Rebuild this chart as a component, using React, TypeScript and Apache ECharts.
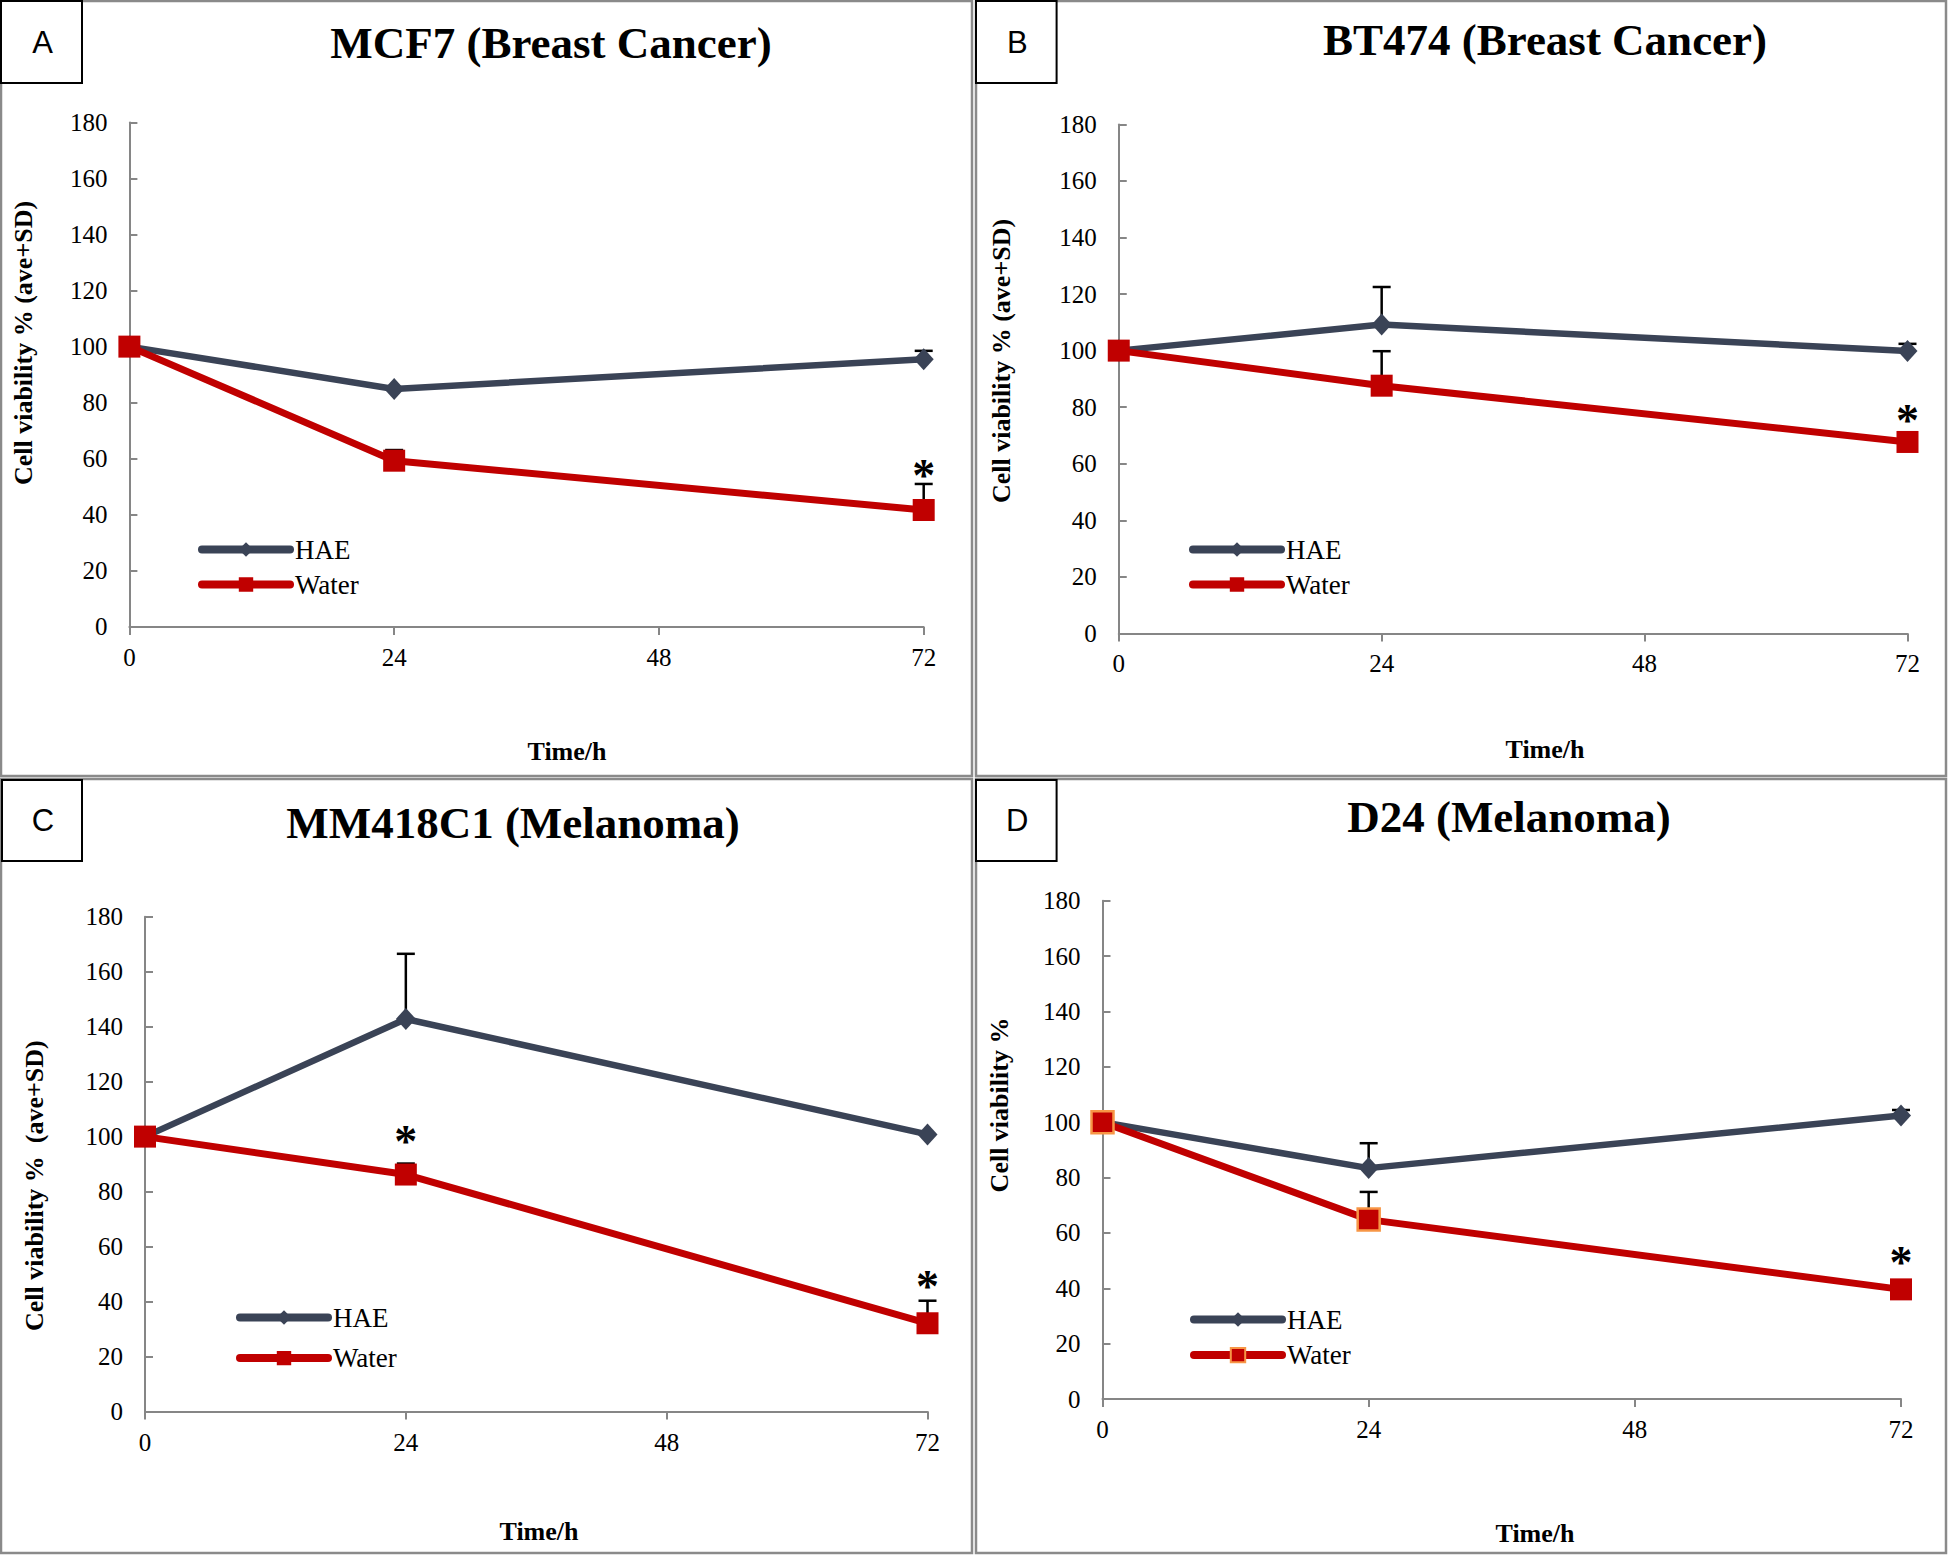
import React, { useEffect, useRef } from "react";
import * as echarts from "echarts";

// ---------- data ----------
const hours = [0, 24, 72];
const panelLetters = ["A", "B", "C", "D"];
const panelTitles = ["MCF7 (Breast Cancer)", "BT474 (Breast Cancer)", "MM418C1 (Melanoma)", "D24 (Melanoma)"];
const yAxisNames = ["Cell viability % (ave+SD)", "Cell viability % (ave+SD)", "Cell viability %  (ave+SD)", "Cell viability %"];
const xAxisName = "Time/h";
const seriesNames = ["HAE", "Water"];

const mcf7Hae = [100, 84.9, 95.5];
const mcf7HaeSd = [0, 0, 3];
const mcf7Water = [100, 59.3, 41.7];
const mcf7WaterSd = [0, 3.8, 9.3];
const mcf7Stars = [null, null, 56.4];

const bt474Hae = [100, 109.2, 99.9];
const bt474HaeSd = [0, 13.3, 2.5];
const bt474Water = [100, 87.6, 67.7];
const bt474WaterSd = [0, 12.2, 0];
const bt474Stars = [null, null, 77.9];

const mm418Hae = [100, 142.8, 100.8];
const mm418HaeSd = [0, 23.7, 0];
const mm418Water = [100, 86.2, 32.1];
const mm418WaterSd = [0, 4, 8.2];
const mm418Stars = [null, 100.9, 48];

const d24Hae = [100, 83.4, 102.4];
const d24HaeSd = [0, 9, 2];
const d24Water = [100, 64.8, 39.6];
const d24WaterSd = [0, 10, 0];
const d24Stars = [null, null, 51.8];

// ---------- styling / layout ----------
const HAE_COLOR = "#3A4356";
const WATER_COLOR = "#C00000";
const ORANGE = "#F79646";
const AXIS_COLOR = "#868686";
const SERIF = "'Liberation Serif', 'Times New Roman', serif";

const panels = [
  {
    grid: { left: 129.4, top: 122.4, width: 794.3, height: 504.5 },
    hae: mcf7Hae, haeSd: mcf7HaeSd, water: mcf7Water, waterSd: mcf7WaterSd, stars: mcf7Stars,
    title: [551, 43], yName: [23.5, 343], xName: [567, 751],
    legend: { left: 198, top: 536, gap: 8 }, box: [0, 0, 81, 82], orange: false,
  },
  {
    grid: { left: 1118.75, top: 124.4, width: 788.75, height: 509 },
    hae: bt474Hae, haeSd: bt474HaeSd, water: bt474Water, waterSd: bt474WaterSd, stars: bt474Stars,
    title: [1545, 40], yName: [1001.5, 361], xName: [1545, 749],
    legend: { left: 1189, top: 536, gap: 8 }, box: [975, 0, 80.6, 82], orange: false,
  },
  {
    grid: { left: 145, top: 916.7, width: 782.5, height: 494.8 },
    hae: mm418Hae, haeSd: mm418HaeSd, water: mm418Water, waterSd: mm418WaterSd, stars: mm418Stars,
    title: [513, 822.6], yName: [34.5, 1185.6], xName: [539, 1531],
    legend: { left: 236, top: 1304, gap: 13.6 }, box: [1, 779, 80, 81], orange: false,
  },
  {
    grid: { left: 1102.5, top: 900.7, width: 798.5, height: 498.3 },
    hae: d24Hae, haeSd: d24HaeSd, water: d24Water, waterSd: d24WaterSd, stars: d24Stars,
    title: [1509, 817], yName: [999, 1105], xName: [1535, 1533],
    legend: { left: 1190, top: 1306, gap: 8.6 }, box: [975, 779, 80.6, 81], orange: true,
  },
];

const panelFrames = [
  [1, 1, 971, 775],
  [976, 1, 970, 775],
  [1, 779, 971, 774],
  [976, 779, 970, 774],
];

function errorSeries(g: number, values: number[], sds: number[]) {
  const data = hours
    .map((h, i) => [h, values[i], sds[i]])
    .filter((d) => d[2] > 0);
  return {
    type: "custom",
    xAxisIndex: g,
    yAxisIndex: g,
    z: 1,
    silent: true,
    clip: false,
    data,
    renderItem: (params: any, api: any) => {
      const x = api.value(0);
      const y = api.value(1);
      const sd = api.value(2);
      const base = api.coord([x, y]);
      const top = api.coord([x, y + sd]);
      return {
        type: "group",
        children: [
          { type: "line", shape: { x1: base[0], y1: base[1], x2: top[0], y2: top[1] }, style: { stroke: "#000", lineWidth: 2.5 } },
          { type: "line", shape: { x1: top[0] - 9, y1: top[1], x2: top[0] + 9, y2: top[1] }, style: { stroke: "#000", lineWidth: 2.5 } },
        ],
      };
    },
  };
}

function starSeries(g: number, stars: (number | null)[]) {
  const data = hours
    .map((h, i) => [h, stars[i]])
    .filter((d) => d[1] !== null);
  return {
    type: "custom",
    xAxisIndex: g,
    yAxisIndex: g,
    z: 5,
    silent: true,
    clip: false,
    data,
    renderItem: (params: any, api: any) => {
      const p = api.coord([api.value(0), api.value(1)]);
      return {
        type: "text",
        x: p[0],
        y: p[1] + 7,
        style: {
          text: "*",
          fontFamily: SERIF,
          fontWeight: "bold",
          fontSize: 46,
          fill: "#000",
          align: "center",
          verticalAlign: "middle",
        },
      };
    },
  };
}

export default function App() {
  const ref = useRef<HTMLDivElement>(null);

  useEffect(() => {
    if (!ref.current) return;
    const chart = echarts.init(ref.current, null, { renderer: "svg" });

    const grid = panels.map((p) => ({ ...p.grid, containLabel: false }));
    const xAxis = panels.map((p, i) => ({
      type: "value",
      gridIndex: i,
      min: 0,
      max: 72,
      interval: 24,
      splitLine: { show: false },
      axisLine: { show: true, lineStyle: { color: AXIS_COLOR, width: 2 } },
      axisTick: { show: true, length: 8, lineStyle: { color: AXIS_COLOR, width: 2 } },
      axisLabel: { color: "#000", fontFamily: SERIF, fontSize: 25, margin: 18 },
    }));
    const yAxis = panels.map((p, i) => ({
      type: "value",
      gridIndex: i,
      min: 0,
      max: 180,
      interval: 20,
      splitLine: { show: false },
      axisLine: { show: true, lineStyle: { color: AXIS_COLOR, width: 2 } },
      axisTick: { show: true, inside: true, length: 8, lineStyle: { color: AXIS_COLOR, width: 2 } },
      axisLabel: { color: "#000", fontFamily: SERIF, fontSize: 25, margin: 22 },
    }));

    const series: any[] = [];
    panels.forEach((p, i) => {
      series.push(errorSeries(i, p.hae, p.haeSd));
      series.push(errorSeries(i, p.water, p.waterSd));
      series.push({
        type: "line",
        name: seriesNames[0],
        xAxisIndex: i,
        yAxisIndex: i,
        data: hours.map((h, k) => [h, p.hae[k]]),
        symbol: "diamond",
        symbolSize: [20, 22],
        showAllSymbol: true,
        lineStyle: { color: HAE_COLOR, width: 6.5 },
        itemStyle: { color: HAE_COLOR },
        z: 3,
        silent: true,
      });
      series.push({
        type: "line",
        name: seriesNames[1],
        xAxisIndex: i,
        yAxisIndex: i,
        data: hours.map((h, k) => {
          const item: any = { value: [h, p.water[k]] };
          if (p.orange && k < 2) {
            item.itemStyle = { borderColor: ORANGE, borderWidth: 2.5 };
          }
          return item;
        }),
        symbol: "rect",
        symbolSize: 22,
        lineStyle: { color: WATER_COLOR, width: 7 },
        itemStyle: { color: WATER_COLOR },
        z: 4,
        silent: true,
      });
      series.push(starSeries(i, p.stars));
    });

    const legend = panels.map((p) => ({
      orient: "vertical",
      left: p.legend.left,
      top: p.legend.top,
      padding: 0,
      itemGap: p.legend.gap,
      itemWidth: 88,
      itemHeight: 18,
      selectedMode: false,
      lineStyle: { width: 8, cap: "round" },
      textStyle: { fontFamily: SERIF, fontSize: 27, color: "#000", lineHeight: 26 },
      data: [
        { name: seriesNames[0] },
        p.orange
          ? { name: seriesNames[1], itemStyle: { borderColor: ORANGE, borderWidth: 2 } }
          : { name: seriesNames[1] },
      ],
    }));

    const graphic: any[] = [];
    panelFrames.forEach((f) => {
      graphic.push({
        type: "rect",
        shape: { x: f[0], y: f[1], width: f[2], height: f[3] },
        style: { fill: "none", stroke: "#8a8a8a", lineWidth: 2.5 },
        silent: true,
      });
    });
    panels.forEach((p, i) => {
      const b = p.box;
      graphic.push({
        type: "rect",
        shape: { x: b[0] + 1, y: b[1] + 1, width: b[2], height: b[3] },
        style: { fill: "#fff", stroke: "#000", lineWidth: 2 },
        z: 10,
        silent: true,
      });
      graphic.push({
        type: "text",
        x: b[0] + b[2] / 2 + 2,
        y: b[1] + b[3] / 2 + 1,
        z: 11,
        style: {
          text: panelLetters[i],
          fontFamily: "'Liberation Sans', Arial, sans-serif",
          fontSize: 31,
          fill: "#000",
          align: "center",
          verticalAlign: "middle",
        },
      });
      graphic.push({
        type: "text",
        x: p.title[0],
        y: p.title[1],
        z: 11,
        style: {
          text: panelTitles[i],
          fontFamily: SERIF,
          fontWeight: "bold",
          fontSize: 45,
          fill: "#000",
          align: "center",
          verticalAlign: "middle",
        },
      });
      graphic.push({
        type: "text",
        x: p.yName[0],
        y: p.yName[1],
        rotation: Math.PI / 2,
        z: 11,
        style: {
          text: yAxisNames[i],
          fontFamily: SERIF,
          fontWeight: "bold",
          fontSize: 26,
          fill: "#000",
          align: "center",
          verticalAlign: "middle",
        },
      });
      graphic.push({
        type: "text",
        x: p.xName[0],
        y: p.xName[1],
        z: 11,
        style: {
          text: xAxisName,
          fontFamily: SERIF,
          fontWeight: "bold",
          fontSize: 26,
          fill: "#000",
          align: "center",
          verticalAlign: "middle",
        },
      });
    });

    chart.setOption({
      animation: false,
      backgroundColor: "#fff",
      grid,
      xAxis,
      yAxis,
      legend,
      series,
      graphic,
    });

    return () => {
      chart.dispose();
    };
  }, []);

  return (
    <div
      ref={ref}
      style={{ position: "absolute", left: 0, top: 0, width: 1948, height: 1555, background: "#fff" }}
    />
  );
}
